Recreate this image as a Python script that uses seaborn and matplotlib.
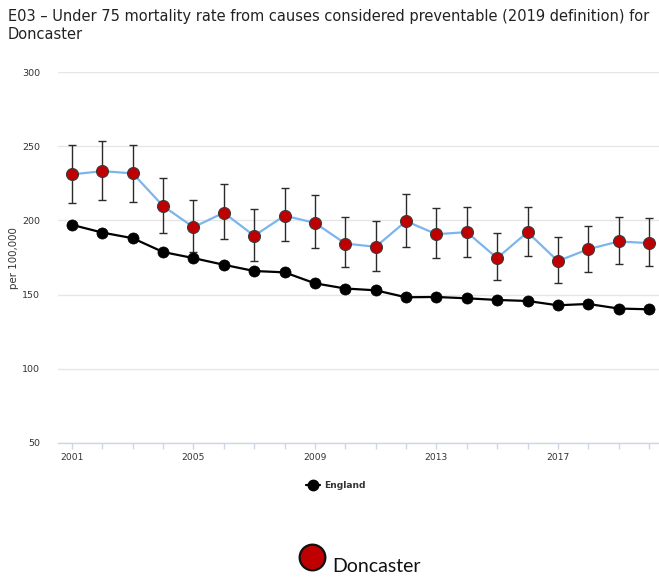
import numpy as np
import pandas as pd
import matplotlib
matplotlib.use("Agg")
import matplotlib.pyplot as plt
from matplotlib.lines import Line2D
import seaborn as sns

# Under-75 preventable mortality, directly standardised rate per 100,000
years = list(range(2001, 2021))
doncaster = [231.0, 233.2, 231.7, 209.7, 195.4, 205.2, 189.6, 203.2, 198.3, 184.4,
             182.2, 199.5, 190.7, 192.1, 174.6, 192.1, 172.6, 180.6, 185.8, 184.7]
doncaster_lower = [211.7, 214.0, 212.4, 191.6, 178.4, 187.6, 172.8, 186.0, 181.3, 168.3,
                   165.9, 182.4, 174.6, 175.5, 159.6, 176.2, 157.8, 165.2, 170.6, 169.3]
doncaster_upper = [250.7, 253.6, 251.1, 228.7, 214.0, 224.3, 207.7, 222.0, 216.9, 202.1,
                   199.7, 217.6, 208.2, 209.3, 191.8, 209.3, 188.7, 196.5, 202.6, 201.5]
england = [197.0, 191.8, 188.0, 178.7, 174.6, 170.1, 165.9, 165.0, 157.6, 154.1,
           152.9, 148.2, 148.4, 147.5, 146.4, 145.7, 142.8, 143.7, 140.6, 140.1]

x_tick_years = [2001, 2005, 2009, 2013, 2017]
y_ticks = [50, 100, 150, 200, 250, 300]

title = ("E03 \u2013 Under 75 mortality rate from causes considered preventable (2019 definition) for\n"
         "Doncaster")

sns.set_theme(style="white")
plt.rcParams["font.family"] = ["DejaVu Sans"]

W, H = 659, 577
fig = plt.figure(figsize=(W / 100, H / 100), dpi=100)
ax = fig.add_axes([58 / W, 1 - 443 / H, 601 / W, 371 / H])

df = pd.DataFrame({"year": years, "Doncaster": doncaster, "England": england})

don = np.array(doncaster)
yerr = [don - np.array(doncaster_lower), np.array(doncaster_upper) - don]
ax.errorbar(years, doncaster, yerr=yerr, fmt="none", ecolor="#2b2b2b",
            elinewidth=1.0, capsize=2.6, capthick=1.0, zorder=3)

sns.lineplot(data=df, x="year", y="Doncaster", ax=ax, color="#7cb5ec", linewidth=1.6,
             marker="o", markersize=8.6, markerfacecolor="#c00000",
             markeredgecolor="#3a3a3a", markeredgewidth=0.8, zorder=4)
sns.lineplot(data=df, x="year", y="England", ax=ax, color="black", linewidth=1.6,
             marker="o", markersize=8.0, markerfacecolor="black",
             markeredgecolor="black", markeredgewidth=0.5, zorder=5)

ax.set_xlim(2000.54, 2020.33)
ax.set_ylim(50, 300)
ax.set_yticks(y_ticks)
ax.set_xticks(x_tick_years)
ax.set_xticks(years, minor=True)
ax.grid(axis="y", color="#e6e6e6", linewidth=1)
ax.grid(axis="x", visible=False)
for side in ("top", "right", "left"):
    ax.spines[side].set_visible(False)
ax.spines["bottom"].set_color("#ccd6eb")
ax.spines["bottom"].set_linewidth(1)
ax.tick_params(axis="x", which="both", length=4, color="#ccd6eb", width=1,
               labelsize=6.6, labelcolor="#333333", pad=3, bottom=True)
ax.tick_params(axis="y", length=0, labelsize=6.8, labelcolor="#333333", pad=13)
ax.set_xlabel("")
ax.set_ylabel("")
fig.text(14 / W, 1 - 258 / H, "per 100,000", rotation=90, ha="center", va="center",
         fontsize=7.4, color="#333333")

fig.text(8 / W, 1 - 9 / H, title, ha="left", va="top", fontsize=10.5,
         color="#222222", linespacing=1.25)

# England legend entry
fig.add_artist(Line2D([306 / W, 320 / W], [1 - 485 / H, 1 - 485 / H],
                      transform=fig.transFigure, color="black", linewidth=1.6))
fig.add_artist(Line2D([313 / W], [1 - 485 / H], transform=fig.transFigure,
                      color="black", marker="o", markersize=7.5, linestyle="none"))
fig.text(324 / W, 1 - 485 / H, "England", ha="left", va="center", fontsize=6.6,
         fontweight="bold", color="#333333")

# Doncaster key
fig.add_artist(Line2D([311.5 / W], [1 - 557 / H], transform=fig.transFigure,
                      marker="o", markersize=18.5, linestyle="none",
                      markerfacecolor="#c00000", markeredgecolor="#111111",
                      markeredgewidth=1.6))
fig.text(332 / W, 1 - 572 / H, "Doncaster", ha="left", va="baseline",
         fontsize=14, family=["Lato", "DejaVu Sans"], color="#111111")

fig.savefig("out.png", dpi=100, facecolor="white")
